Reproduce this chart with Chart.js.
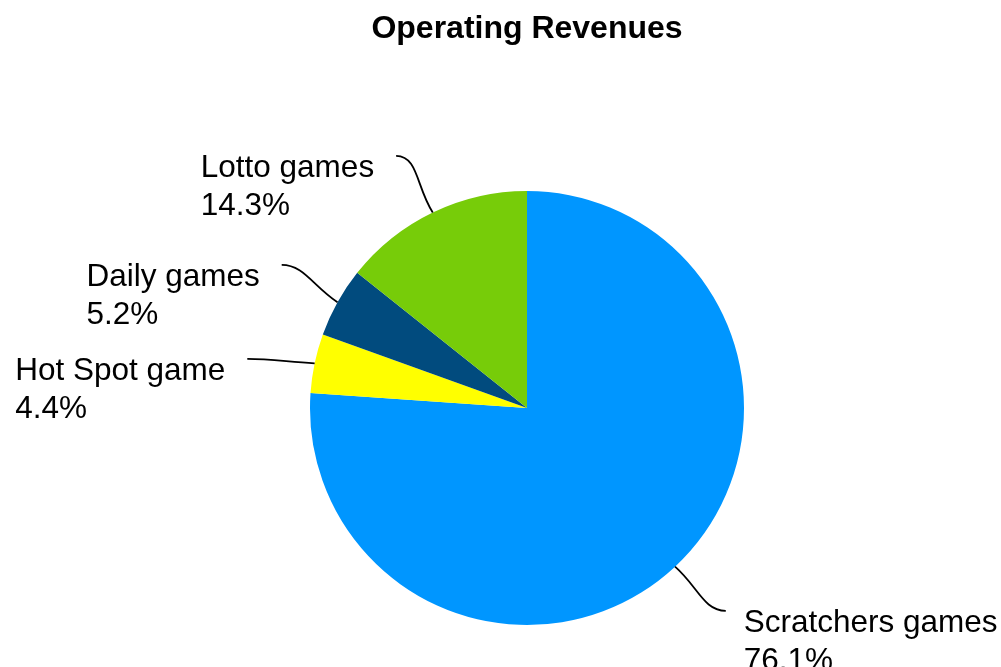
<!DOCTYPE html>
<html>
<head>
<meta charset="utf-8">
<script src="https://cdn.jsdelivr.net/npm/chart.js@4"></script>
<style>
  body { margin: 0; background: #fff; }
  #wrap { width: 1001px; height: 667px; }
</style>
</head>
<body>
<div id="wrap"><canvas id="pie_chart" width="1001" height="667"></canvas></div>
<script>
const categories = ['Scratchers games', 'Hot Spot game', 'Daily games', 'Lotto games'];
const shares = [76.1, 4.4, 5.2, 14.3];
const sliceColors = ['#0096FF', '#FFFF00', '#014B7E', '#77CC09'];
// small angle nudges (degrees) for where each leader line ends
const labelNudge = [-1.4, -1.9, 1.1, -1.7];

const labelFont = '31.5px "Liberation Sans", Arial, sans-serif';

// draws the curved leader lines and the two-line labels
const leaderLabels = {
    id: 'leaderLabels',
    afterDraw(chart) {
        const ctx = chart.ctx;
        const arcs = chart.getDatasetMeta(0).data;
        ctx.save();
        ctx.font = labelFont;
        ctx.fillStyle = '#000';
        ctx.strokeStyle = '#000';
        ctx.lineWidth = 1.8;
        arcs.forEach((arc, i) => {
            const mid = (arc.startAngle + arc.endAngle) / 2;
            const r = arc.outerRadius;
            const sx = arc.x + r * Math.cos(mid), sy = arc.y + r * Math.sin(mid);
            const a2 = mid + labelNudge[i] * Math.PI / 180;
            const ex = arc.x + (r + 67) * Math.cos(a2), ey = arc.y + (r + 67) * Math.sin(a2);
            const right = Math.cos(a2) >= 0;
            const dir = right ? -1 : 1;
            ctx.beginPath();
            ctx.moveTo(sx, sy);
            ctx.bezierCurveTo(sx + (ex - sx) * 0.45, sy + (ey - sy) * 0.45,
                              ex + dir * 22, ey, ex, ey);
            ctx.stroke();

            const lines = [categories[i], shares[i].toFixed(1) + '%'];
            const w = Math.max(...lines.map(t => ctx.measureText(t).width));
            const tx = right ? ex + 18 : ex - 22 - w;
            ctx.textAlign = 'left';
            ctx.textBaseline = 'alphabetic';
            lines.forEach((t, k) => ctx.fillText(t, tx, ey + 21 + k * 38));
        });
        ctx.restore();
    }
};

new Chart(document.getElementById('pie_chart'), {
    type: 'pie',
    data: {
        labels: categories,
        datasets: [{
            data: shares,
            backgroundColor: sliceColors,
            borderWidth: 0,
            hoverOffset: 0
        }]
    },
    options: {
        responsive: false,
        animation: false,
        layout: {
            padding: { left: 310, right: 257, top: 0, bottom: 42 }
        },
        plugins: {
            legend: { display: false },
            tooltip: { enabled: false },
            title: {
                display: true,
                text: 'Operating Revenues',
                color: '#000',
                font: { family: '"Liberation Sans", Arial, sans-serif', size: 32, weight: 'bold', lineHeight: 1.2 },
                padding: { top: 10, bottom: 142.6 }
            }
        }
    },
    plugins: [leaderLabels]
});
</script>
</body>
</html>
